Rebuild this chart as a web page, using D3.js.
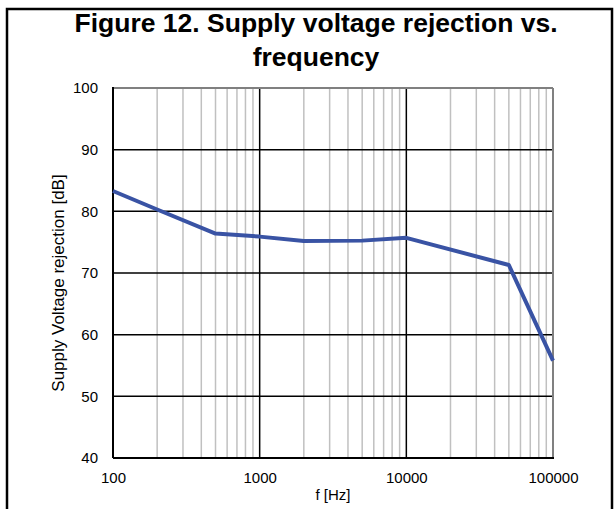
<!DOCTYPE html>
<html>
<head>
<meta charset="utf-8">
<script src="https://cdn.jsdelivr.net/npm/d3@7"></script>
<style>
  body { margin: 0; background: #fff; }
  text { font-family: "Liberation Sans", Arial, sans-serif; fill: #000; }
</style>
</head>
<body>
<div id="chart"></div>
<script>
// data
var freqHz = [100, 200, 500, 1000, 2000, 5000, 10000, 50000, 100000];
var svrDb = [83.3, 80.3, 76.4, 75.9, 75.2, 75.25, 75.7, 71.3, 55.8];
var yTicks = [40, 50, 60, 70, 80, 90, 100];
var xTicks = [100, 1000, 10000, 100000];
var titleLines = ["Figure 12. Supply voltage rejection vs.", "frequency"];

var W = 615, H = 509;
var plot = {left: 113, right: 553, top: 88, bottom: 458};

var svg = d3.select("#chart").append("svg")
    .attr("width", W)
    .attr("height", H);

svg.append("rect").attr("width", W).attr("height", H).attr("fill", "#fff");

// outer frame
svg.append("rect")
    .attr("x", 7).attr("y", 9)
    .attr("width", 605).attr("height", 520)
    .attr("fill", "none")
    .attr("stroke", "#000")
    .attr("stroke-width", 2.5);

// title
svg.selectAll(".title")
    .data(titleLines)
  .enter().append("text")
    .attr("class", "title")
    .attr("x", 316)
    .attr("y", function(d, i) { return 32 + i * 34; })
    .attr("text-anchor", "middle")
    .style("font-size", "26.5px")
    .style("font-weight", "bold")
    .text(function(d) { return d; });

var x = d3.scaleLog()
    .domain([100, 100000])
    .range([plot.left, plot.right]);
var y = d3.scaleLinear()
    .domain([40, 100])
    .range([plot.bottom, plot.top]);

// minor + major vertical grid
var minor = [];
[100, 1000, 10000].forEach(function(dec) {
  for (var k = 2; k <= 9; k++) minor.push(dec * k);
});

svg.append("g").selectAll("line")
    .data(minor)
  .enter().append("line")
    .attr("x1", function(d) { return x(d); })
    .attr("x2", function(d) { return x(d); })
    .attr("y1", plot.top).attr("y2", plot.bottom)
    .attr("stroke", "#c0c0c0")
    .attr("stroke-width", 1.5);

svg.append("g").selectAll("line")
    .data([1000, 10000])
  .enter().append("line")
    .attr("x1", function(d) { return x(d); })
    .attr("x2", function(d) { return x(d); })
    .attr("y1", plot.top).attr("y2", plot.bottom)
    .attr("stroke", "#000")
    .attr("stroke-width", 1.5);

svg.append("g").selectAll("line")
    .data(yTicks.slice(1, -1))
  .enter().append("line")
    .attr("x1", plot.left).attr("x2", plot.right)
    .attr("y1", function(d) { return y(d); })
    .attr("y2", function(d) { return y(d); })
    .attr("stroke", "#000")
    .attr("stroke-width", 1.5);

// plot border: top/right grey, left/bottom black
svg.append("line")
    .attr("x1", plot.left).attr("x2", plot.right)
    .attr("y1", plot.top).attr("y2", plot.top)
    .attr("stroke", "#808080").attr("stroke-width", 2);
svg.append("line")
    .attr("x1", plot.right).attr("x2", plot.right)
    .attr("y1", plot.top).attr("y2", plot.bottom)
    .attr("stroke", "#808080").attr("stroke-width", 2);
svg.append("line")
    .attr("x1", plot.left).attr("x2", plot.left)
    .attr("y1", plot.top - 1).attr("y2", plot.bottom)
    .attr("stroke", "#000").attr("stroke-width", 2);
svg.append("line")
    .attr("x1", plot.left).attr("x2", plot.right + 1)
    .attr("y1", plot.bottom).attr("y2", plot.bottom)
    .attr("stroke", "#000").attr("stroke-width", 2);

// axes (labels only)
var xAxis = svg.append("g")
    .attr("transform", "translate(0," + (plot.bottom + 14) + ")")
    .call(d3.axisBottom(x).tickValues(xTicks).tickFormat(d3.format("d")).tickSize(0));
xAxis.select(".domain").remove();
xAxis.selectAll("text")
    .attr("y", 0).attr("dy", "0.71em")
    .style("font-size", "15px")
    .style("font-family", "Liberation Sans, Arial, sans-serif");

var yAxis = svg.append("g")
    .attr("transform", "translate(" + (plot.left - 15) + ",0)")
    .call(d3.axisLeft(y).tickValues(yTicks).tickSize(0));
yAxis.select(".domain").remove();
yAxis.selectAll("text")
    .attr("x", 0)
    .style("font-size", "15px")
    .style("font-family", "Liberation Sans, Arial, sans-serif");

// axis titles
svg.append("text")
    .attr("x", (plot.left + plot.right) / 2)
    .attr("y", 500)
    .attr("text-anchor", "middle")
    .style("font-size", "15px")
    .text("f [Hz]");

svg.append("text")
    .attr("transform", "translate(64,283) rotate(-90)")
    .attr("text-anchor", "middle")
    .style("font-size", "17px")
    .text("Supply Voltage rejection [dB]");

// data line
var line = d3.line()
    .x(function(d, i) { return x(freqHz[i]); })
    .y(function(d) { return y(d); });

svg.append("path")
    .datum(svrDb)
    .attr("d", line)
    .attr("fill", "none")
    .attr("stroke", "#3953a4")
    .attr("stroke-width", 4)
    .attr("stroke-linejoin", "round");
</script>
</body>
</html>
